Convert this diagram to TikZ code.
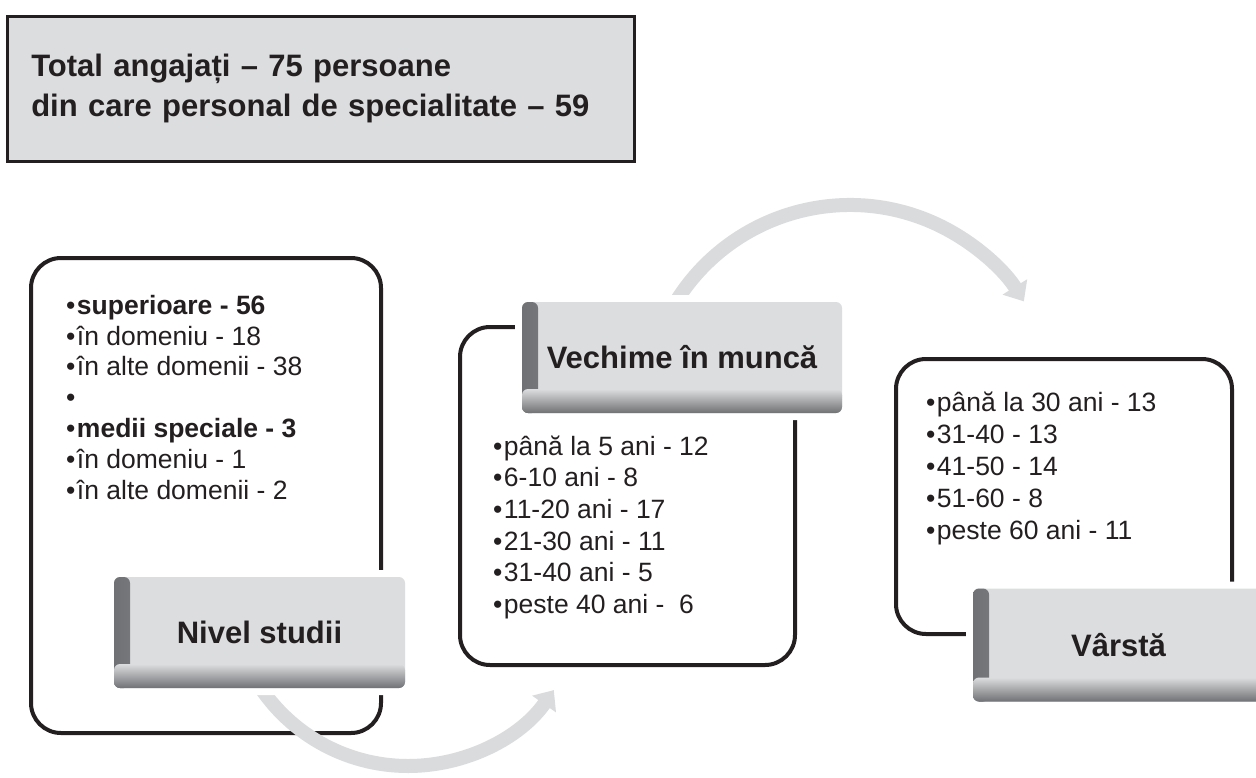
\documentclass[tikz,border=0pt]{standalone}
\usepackage{fontspec}
\setmainfont{Liberation Sans}
\usetikzlibrary{arrows.meta,calc}
\definecolor{boxgray}{RGB}{220,221,223}
\definecolor{arrowgray}{RGB}{218,219,221}
\definecolor{shadowgray}{RGB}{112,113,116}
\definecolor{inkblack}{RGB}{35,31,32}
\begin{document}
\begin{tikzpicture}[x=1pt,y=-1pt,
  topbox/.style={draw=inkblack, line width=2.5pt, fill=boxgray, minimum height=145pt,
    text width=579pt, inner xsep=24pt, inner ysep=0pt, align=left, text=inkblack,
    font=\fontsize{31}{40}\selectfont\bfseries},
  frame/.style={draw=inkblack, line width=4pt, rounded corners=30pt, inner sep=0pt},
  bullettext/.style={anchor=north west, inner sep=0pt, align=left, text=inkblack,
    font=\fontsize{26.5}{#1}\selectfont},
  labelbox/.style={rounded corners=6pt, fill=boxgray, minimum height=111pt, inner sep=0pt,
    text=inkblack, font=\fontsize{31}{37}\selectfont\bfseries,
    preaction={draw=white, fill=white, line width=14pt},
    path picture={
      \shade[left color=shadowgray, right color=boxgray]
        (path picture bounding box.south west) rectangle ([xshift=16pt]path picture bounding box.north west);
      \shade[top color=boxgray, bottom color=shadowgray]
        ([yshift=24pt]path picture bounding box.south west) rectangle (path picture bounding box.south east);
    }},
  flow/.style={draw=arrowgray, line width=14pt, -{Triangle[width=28pt,length=17pt]}}
]
\useasboundingbox (0,0) rectangle (1256,777);
\clip (0,0) rectangle (1256,777);
\fill[white] (0,0) rectangle (1256,777);

% summary box
\node[topbox, anchor=north west] (total) at (6,15)
  {Total angajați – 75 persoane\\din care personal de specialitate – 59};

% content frames
\node[frame, anchor=north west, minimum width=350pt, minimum height=475pt] (studiiframe) at (29,256) {};
\node[frame, anchor=north west, minimum width=335pt, minimum height=338pt] (vechimeframe) at (458,325) {};
\node[frame, anchor=north west, minimum width=336pt, minimum height=275pt] (varstaframe) at (894,357) {};

% curved flow arrows
\coordinate (c1) at (408,588);
\coordinate (c2) at (850,410);
\coordinate (flowAstart) at ($(c1)+(150:178)$);
\coordinate (flowBstart) at ($(c2)+(208:205)$);
\draw[flow] (flowAstart) arc[start angle=150, end angle=35, radius=178];
\draw[flow] (flowBstart) arc[start angle=208, end angle=328, radius=205];

% label boxes
\node[labelbox, minimum width=291pt] (nivel) at (259.5,632.5) {Nivel studii};
\node[labelbox, minimum width=320pt] (vechime) at (682,357.5) {Vechime în muncă};
\node[labelbox, minimum width=291pt, minimum height=113pt] (varsta) at (1118.5,645) {Vârstă};

% bullet lists
\node[bullettext=30.8] (studiilist) at (66,290)
  {\rule{0pt}{24pt}•\hspace{1.5pt}\textbf{superioare - 56}\\
   •\hspace{1.5pt}în domeniu - 18\\
   •\hspace{1.5pt}în alte domenii - 38\\
   •\\
   •\hspace{1.5pt}\textbf{medii speciale - 3}\\
   •\hspace{1.5pt}în domeniu - 1\\
   •\hspace{1.5pt}în alte domenii - 2};
\node[bullettext=31.6] (vechimelist) at (493,431)
  {\rule{0pt}{24pt}•\hspace{1.5pt}până la 5 ani - 12\\
   •\hspace{1.5pt}6-10 ani - 8\\
   •\hspace{1.5pt}11-20 ani - 17\\
   •\hspace{1.5pt}21-30 ani - 11\\
   •\hspace{1.5pt}31-40 ani - 5\\
   •\hspace{1.5pt}peste 40 ani -\ \ 6};
\node[bullettext=32] (varstalist) at (926,387)
  {\rule{0pt}{24pt}•\hspace{1.5pt}până la 30 ani - 13\\
   •\hspace{1.5pt}31-40 - 13\\
   •\hspace{1.5pt}41-50 - 14\\
   •\hspace{1.5pt}51-60 - 8\\
   •\hspace{1.5pt}peste 60 ani - 11};
\end{tikzpicture}
\end{document}
